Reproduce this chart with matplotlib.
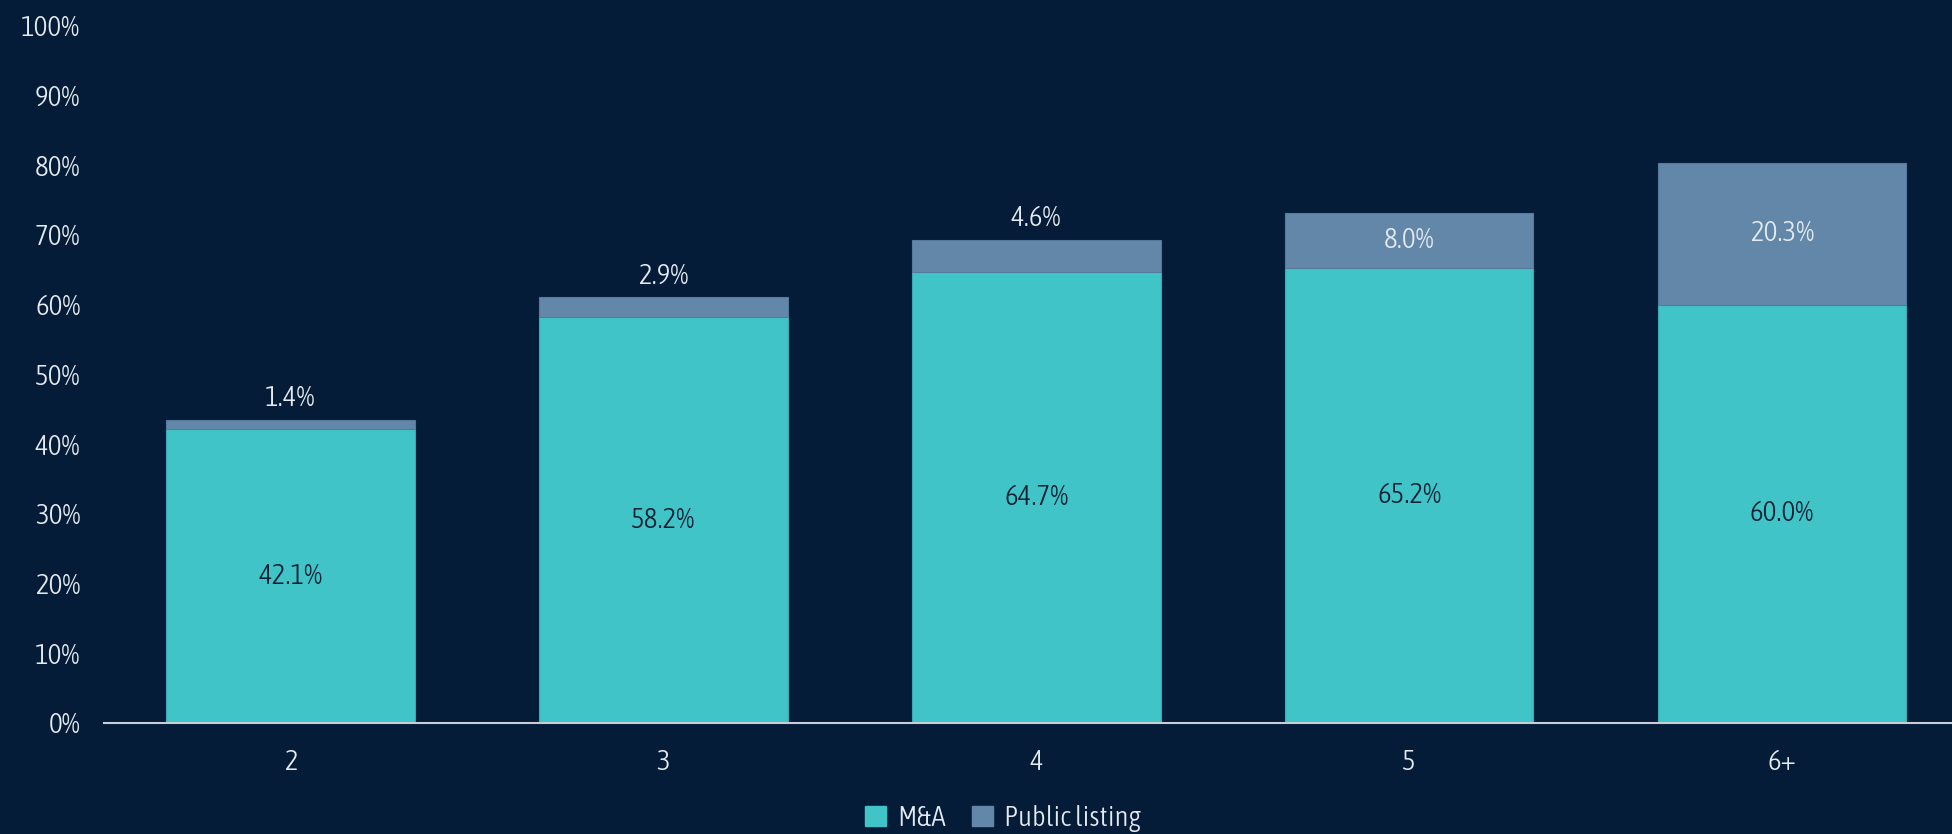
import matplotlib.pyplot as plt
from matplotlib.patches import Patch

# exits by number of funding rounds
rounds = ["2", "3", "4", "5", "6+"]
ma = [42.1, 58.2, 64.7, 65.2, 60.0]
listing = [1.4, 2.9, 4.6, 8.0, 20.3]

BG = "#041c38"
TEAL = "#40c4c8"
SLATE = "#6287a8"
TXT = "#e6ebf1"

plt.rcParams["font.family"] = ["Asap Condensed", "DejaVu Sans"]
plt.rcParams["font.weight"] = 300
FS = 21

fig = plt.figure(figsize=(19.52, 8.34), dpi=100, facecolor=BG)
ax = fig.add_axes([0.0533, 0.1331, 0.9467, 0.836])
ax.set_facecolor(BG)

x = range(len(rounds))
ax.bar(x, ma, width=0.667, color=TEAL, edgecolor="#3aa9b4", linewidth=0.8, label="M&A")
ax.bar(x, listing, width=0.667, bottom=ma, color=SLATE, edgecolor="#557a9b",
       linewidth=0.8, label="Public listing")

for i, (a, p) in enumerate(zip(ma, listing)):
    ax.text(i, a / 2, f"{a:.1f}%", ha="center", va="center", fontsize=FS,
            color="#0d1f33")
    if p < 6:
        ax.text(i, a + p + 3.0, f"{p:.1f}%", ha="center", va="center",
                fontsize=FS, color=TXT)
    else:
        ax.text(i, a + p / 2, f"{p:.1f}%", ha="center", va="center",
                fontsize=FS, color=TXT)

ax.set_xlim(-0.5, 4.456)
ax.set_ylim(0, 100)
ax.set_yticks(range(0, 101, 10))
ax.set_yticklabels([f"{v}%" for v in range(0, 101, 10)])
ax.set_xticks(list(x))
ax.set_xticklabels(rounds)
ax.tick_params(axis="both", length=0, colors=TXT, labelsize=FS)
ax.tick_params(axis="y", pad=17)
ax.tick_params(axis="x", pad=19)

for s in ["top", "right", "left"]:
    ax.spines[s].set_visible(False)
ax.spines["bottom"].set_color("#c8ced6")
ax.spines["bottom"].set_linewidth(1.5)

handles = [Patch(color=TEAL, label="M&A"), Patch(color=SLATE, label="Public listing")]
fig.legend(handles=handles, loc="center", bbox_to_anchor=(0.514, 0.018), ncol=2,
           frameon=False, fontsize=FS, labelcolor=TXT, handlelength=0.7,
           handleheight=0.7, handletextpad=0.4, columnspacing=0.9)

fig.savefig("out.png", facecolor=BG)
